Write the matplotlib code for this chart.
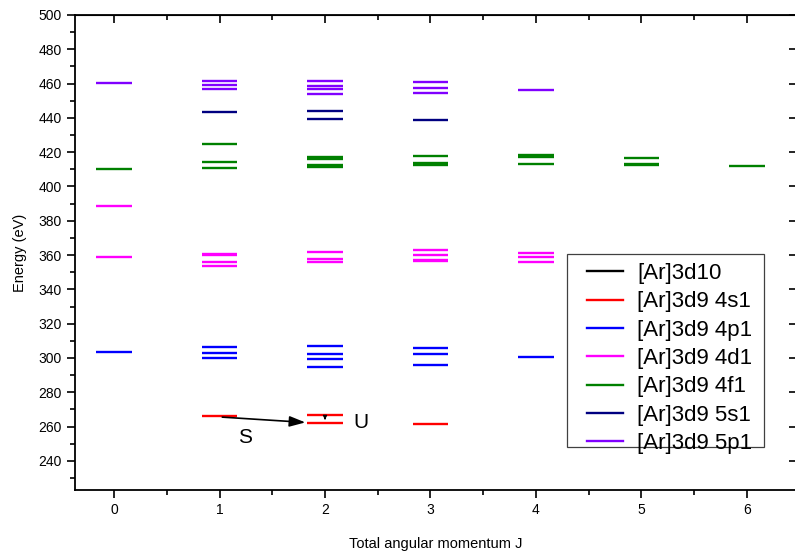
import matplotlib
matplotlib.use("Agg")
import matplotlib.pyplot as plt
from matplotlib.patches import Rectangle
from matplotlib.ticker import MultipleLocator

plt.rcParams["font.family"] = ["Liberation Sans", "DejaVu Sans"]

# 에너지 준위 (eV) - 배치별 J 와 에너지
labels = ["[Ar]3d10", "[Ar]3d9 4s1", "[Ar]3d9 4p1", "[Ar]3d9 4d1",
          "[Ar]3d9 4f1", "[Ar]3d9 5s1", "[Ar]3d9 5p1"]
colors = ["black", "#FF0000", "#0000FF", "#FF00FF", "#008000", "#000080", "#8000FF"]

J_3d10 = [0]
E_3d10 = [0.0]
J_4s1 = [1, 2, 2, 3]
E_4s1 = [266.2, 266.6, 262.3, 261.5]
J_4p1 = [0, 1, 1, 1, 2, 2, 2, 2, 3, 3, 3, 4]
E_4p1 = [303.4, 306.2, 302.9, 299.9, 306.9, 302.1, 299.4, 294.9, 305.6, 302.5, 295.7, 300.5]
J_4d1 = [0, 0, 1, 1, 1, 1, 2, 2, 2, 3, 3, 3, 3, 4, 4, 4]
E_4d1 = [358.6, 388.8, 360.8, 359.8, 356.0, 353.5, 361.9, 358.0, 355.9,
         362.8, 359.9, 357.4, 356.6, 361.3, 358.6, 355.9]
J_4f1 = [0, 1, 1, 1, 2, 2, 2, 2, 3, 3, 3, 4, 4, 4, 5, 5, 5, 6]
E_4f1 = [410.4, 424.6, 414.5, 410.8, 417.2, 416.0, 412.5, 411.4, 418.0, 413.8, 412.8,
         418.3, 417.3, 413.3, 416.8, 413.3, 412.3, 411.8]
J_5s1 = [1, 2, 2, 3]
E_5s1 = [443.6, 443.8, 439.3, 439.0]
J_5p1 = [0, 1, 1, 1, 2, 2, 2, 2, 3, 3, 3, 4]
E_5p1 = [460.3, 461.3, 459.0, 456.6, 461.7, 458.8, 456.6, 453.9, 461.1, 457.2, 454.3, 456.4]

series = [(J_3d10, E_3d10), (J_4s1, E_4s1), (J_4p1, E_4p1), (J_4d1, E_4d1),
          (J_4f1, E_4f1), (J_5s1, E_5s1), (J_5p1, E_5p1)]

HW = 0.17  # 준위 막대 반폭

fig = plt.figure(figsize=(7.95, 5.54), dpi=100)
ax = fig.add_axes([75 / 795, 1 - 490 / 554, 721 / 795, 475 / 554])

for (J, E), col, lab in zip(series, colors, labels):
    ax.hlines(E, [j - HW for j in J], [j + HW for j in J], colors=col, lw=1.7)
    ax.plot([], [], color=col, lw=1.7, label=lab)

# S / U 화살표
ax.annotate("", xy=(1.84, E_4s1[2]), xytext=(1.0, 265.6),
            arrowprops=dict(arrowstyle="-|>,head_length=0.6,head_width=0.2", color="black",
                            lw=1.2, mutation_scale=16))
ax.annotate("", xy=(2.0, E_4s1[2]), xytext=(2.0, E_4s1[1]),
            arrowprops=dict(arrowstyle="-|>", color="black", lw=0.8, mutation_scale=6))
ax.text(1.24, 253.8, "S", fontsize=15, ha="center", va="center")
ax.text(2.34, 262.6, "U", fontsize=15, ha="center", va="center")

ax.set_xlim(-0.37, 6.465)
ax.set_ylim(223, 500)
ax.xaxis.set_major_locator(MultipleLocator(1))
ax.xaxis.set_minor_locator(MultipleLocator(0.5))
ax.yaxis.set_major_locator(MultipleLocator(20))
ax.yaxis.set_minor_locator(MultipleLocator(10))
ax.tick_params(which="both", direction="out", top=False, right=False, labelsize=10, width=1.2)
ax.tick_params(which="major", length=6)
ax.tick_params(which="minor", length=3.5)
for s in ax.spines.values():
    s.set_linewidth(1.3)

# 위/오른쪽 안쪽 눈금
axt = ax.secondary_xaxis("top")
axt.xaxis.set_major_locator(MultipleLocator(1))
axt.xaxis.set_minor_locator(MultipleLocator(0.5))
axt.tick_params(which="both", direction="in", labeltop=False, width=1.2)
axt.tick_params(which="major", length=6)
axt.tick_params(which="minor", length=3.5)
axr = ax.secondary_yaxis("right")
axr.yaxis.set_major_locator(MultipleLocator(20))
axr.yaxis.set_minor_locator(MultipleLocator(10))
axr.tick_params(which="major", direction="in", labelright=False, length=5, width=1.2)
axr.tick_params(which="minor", length=0)

ax.set_xlabel("Total angular momentum J", fontsize=10.5, labelpad=14)
ax.set_ylabel("Energy (eV)", fontsize=10.5, labelpad=8)

# 범례: 틀은 따로 그림 (Origin 식 여백)
W, H = 721.0, 475.0
ax.legend(loc="upper left", bbox_to_anchor=((587 - 75) / W, (490 - 263) / H), fontsize=16,
          frameon=False, handlelength=1.6, labelspacing=0.33, borderpad=0, borderaxespad=0,
          handletextpad=0.65)
ax.add_patch(Rectangle(((567 - 75) / W, (490 - 447) / H), 197 / W, 193 / H,
                       transform=ax.transAxes, fill=False, edgecolor="#404040", lw=0.9, zorder=5))

fig.savefig("out.png", dpi=100)
